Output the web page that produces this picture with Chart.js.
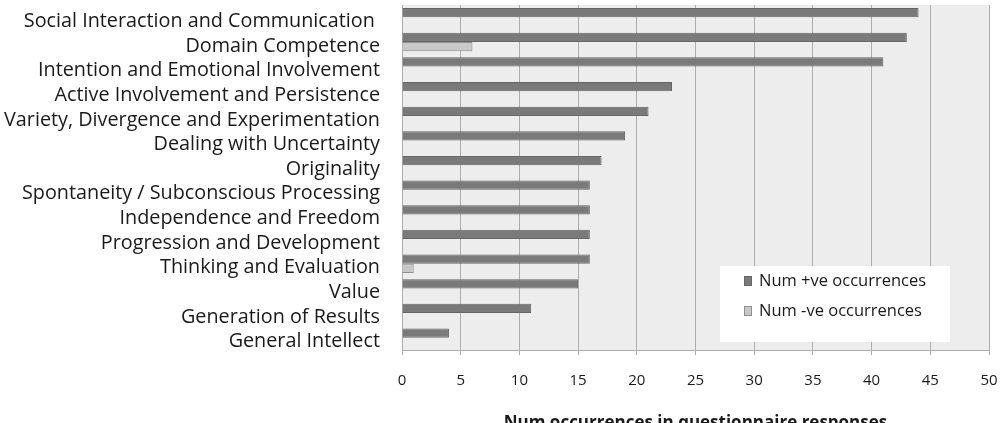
<!DOCTYPE html>
<html>
<head>
<meta charset="utf-8">
<script src="https://cdn.jsdelivr.net/npm/chart.js@4.4.1/dist/chart.umd.min.js"></script>
<style>
  html, body { margin: 0; padding: 0; background: #ffffff; }
  #wrap { width: 1007px; height: 423px; position: relative; }
</style>
</head>
<body>
<div id="wrap"><canvas id="c" width="1007" height="423"></canvas></div>
<script>
const categories = [
  "Social Interaction and Communication ",
  "Domain Competence",
  "Intention and Emotional Involvement",
  "Active Involvement and Persistence",
  "Variety, Divergence and Experimentation",
  "Dealing with Uncertainty",
  "Originality",
  "Spontaneity / Subconscious Processing",
  "Independence and Freedom",
  "Progression and Development",
  "Thinking and Evaluation",
  "Value",
  "Generation of Results",
  "General Intellect"
];
const positiveCounts = [44, 43, 41, 23, 21, 19, 17, 16, 16, 16, 16, 15, 11, 4];
const negativeCounts = [0, 6, 0, 0, 0, 0, 0, 0, 0, 0, 1, 0, 0, 0];
const seriesNames = ["Num +ve occurrences", "Num -ve occurrences"];
const xTickValues = [0, 5, 10, 15, 20, 25, 30, 35, 40, 45, 50];
const xAxisTitle = "Num occurrences in questionnaire responses";

const FONT = "'Open Sans', Lato, sans-serif";

const plotBg = {
  id: 'plotBg',
  beforeDraw(chart) {
    const {ctx, chartArea: a} = chart;
    ctx.save();
    ctx.fillStyle = '#ededed';
    ctx.fillRect(a.left, a.top, a.right - a.left, a.bottom - a.top);
    ctx.restore();
  }
};

const boxLegend = {
  id: 'boxLegend',
  afterDatasetsDraw(chart) {
    const {ctx, chartArea: a} = chart;
    const left = a.right - 269, top = a.bottom - 84, w = 230, h = 76;
    ctx.save();
    ctx.fillStyle = '#ffffff';
    ctx.fillRect(left, top, w, h);
    ctx.font = "16.5px " + FONT;
    ctx.textBaseline = 'middle';
    ctx.textAlign = 'left';
    chart.data.datasets.forEach((ds, i) => {
      const cy = top + 15 + i * 30;
      ctx.fillStyle = ds.backgroundColor;
      ctx.fillRect(left + 24, cy - 5, 8, 10);
      ctx.strokeStyle = ds.borderColor;
      ctx.lineWidth = 1;
      ctx.strokeRect(left + 24.5, cy - 4.5, 7, 9);
      ctx.fillStyle = '#1a1a1a';
      ctx.fillText(ds.label, left + 39, cy);
    });
    ctx.restore();
  }
};

new Chart(document.getElementById('c'), {
  type: 'bar',
  data: {
    labels: categories,
    datasets: [
      {
        label: seriesNames[0],
        data: positiveCounts,
        backgroundColor: '#7a7a7a',
        borderColor: '#666666',
        borderWidth: 1,
        borderSkipped: 'start',
        barPercentage: 1.0,
        categoryPercentage: 0.75
      },
      {
        label: seriesNames[1],
        data: negativeCounts,
        backgroundColor: '#c8c8c8',
        borderColor: '#8f8f8f',
        borderWidth: 1,
        borderSkipped: 'start',
        barPercentage: 1.0,
        categoryPercentage: 0.75
      }
    ]
  },
  options: {
    indexAxis: 'y',
    responsive: false,
    animation: false,
    devicePixelRatio: 1,
    layout: { padding: { left: 0, right: 18, top: 5, bottom: 0 } },
    plugins: {
      legend: { display: false },
      tooltip: { enabled: false },
      title: { display: false }
    },
    scales: {
      x: {
        type: 'linear',
        min: 0,
        max: 50,
        afterBuildTicks(scale) {
          scale.ticks = xTickValues.map(v => ({ value: v }));
        },
        afterFit(scale) {
          scale.height = 73;
          scale.paddingLeft = 0;
          scale.paddingRight = 0;
        },
        grid: {
          color: '#adadad',
          lineWidth: 1,
          drawTicks: true,
          tickLength: 5,
          tickColor: '#adadad'
        },
        border: { display: true, color: '#adadad', width: 1 },
        ticks: {
          color: '#1a1a1a',
          font: { family: FONT, size: 15 },
          padding: 17,
          maxRotation: 0
        },
        title: {
          display: true,
          text: xAxisTitle,
          color: '#1a1a1a',
          font: { family: FONT, size: 17, weight: 'bold' },
          padding: { top: 0, bottom: -10 }
        }
      },
      y: {
        afterFit(scale) {
          scale.width = 402;
          scale.paddingTop = 0;
          scale.paddingBottom = 0;
        },
        grid: { display: false, drawTicks: false },
        border: { display: true, color: '#adadad', width: 1 },
        ticks: {
          color: '#1a1a1a',
          font: { family: FONT, size: 19.8 },
          padding: 22,
          labelOffset: 4,
          autoSkip: false
        }
      }
    }
  },
  plugins: [plotBg, boxLegend]
});
</script>
</body>
</html>
